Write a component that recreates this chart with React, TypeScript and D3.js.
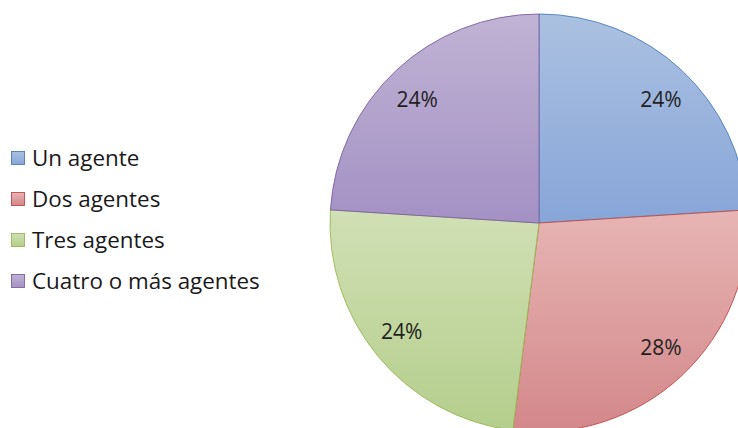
import React from 'react';
import * as d3 from 'd3';

// slice data, clockwise from 12 o'clock
const categories = ['Un agente', 'Dos agentes', 'Tres agentes', 'Cuatro o más agentes'];
const shares = [24, 28, 24, 24];
const labels = ['24%', '28%', '24%', '24%'];

const topColors = ['#abc1e1', '#e7b5b4', '#d1e0b5', '#c0b3d4'];
const bottomColors = ['#87a5d8', '#d3878a', '#b4ce8c', '#a391c4'];
const strokeColors = ['#4a7ebb', '#be4b48', '#98b954', '#7d60a0'];

const App = () => {
  const width = 738;
  const height = 428;
  const cx = 539;
  const cy = 223;
  const radius = 209;

  const pie = d3.pie<number>().sort(null).value(d => d);
  const arcs = pie(shares);
  const arcGen = d3.arc<d3.PieArcDatum<number>>().innerRadius(0).outerRadius(radius);
  // labels sit a bit closer to centre vertically than horizontally
  const labelR = radius * 0.852;
  const labelArc = d3.arc<d3.PieArcDatum<number>>().innerRadius(labelR).outerRadius(labelR);
  const ySquash = 0.955;

  // legend layout
  const legendX = 11;
  const legendY = 158;
  const legendStep = 41;

  return (
    <div style={{ position: 'fixed', left: 0, top: 0 }}>
      <svg width={width} height={height} style={{ display: 'block', background: 'white' }}>
        <defs>
          {categories.map((c, i) => (
            <linearGradient key={c} id={`grad${i}`} x1='0' x2='0' y1='0' y2='1'>
              <stop offset='0%' stopColor={topColors[i]} />
              <stop offset='100%' stopColor={bottomColors[i]} />
            </linearGradient>
          ))}
        </defs>
        <g transform={`translate(${cx}, ${cy})`}>
          {arcs.map((a, i) => (
            <path key={i} d={arcGen(a) || ''} fill={`url(#grad${i})`} stroke={strokeColors[i]} strokeWidth={0.9} strokeLinejoin='round' />
          ))}
          {arcs.map((a, i) => {
            const [x, y] = labelArc.centroid(a);
            return (
              <text key={i} x={x} y={y * ySquash} dy='0.36em' textAnchor='middle'
                fontFamily='"Open Sans", sans-serif' fontSize={21} fill='#1f1f1f'>
                {labels[i]}
              </text>
            );
          })}
        </g>
        <g>
          {categories.map((c, i) => (
            <g key={c} transform={`translate(${legendX}, ${legendY + i * legendStep})`}>
              <rect x={0.5} y={-6.5} width={13} height={13} fill={`url(#grad${i})`} stroke={strokeColors[i]} strokeWidth={0.9} />
              <text x={21} y={0} dy='0.36em' fontFamily='"Open Sans", sans-serif' fontSize={22.4} fill='#1a1a1a'>
                {c}
              </text>
            </g>
          ))}
        </g>
      </svg>
    </div>
  );
};

export default App;
